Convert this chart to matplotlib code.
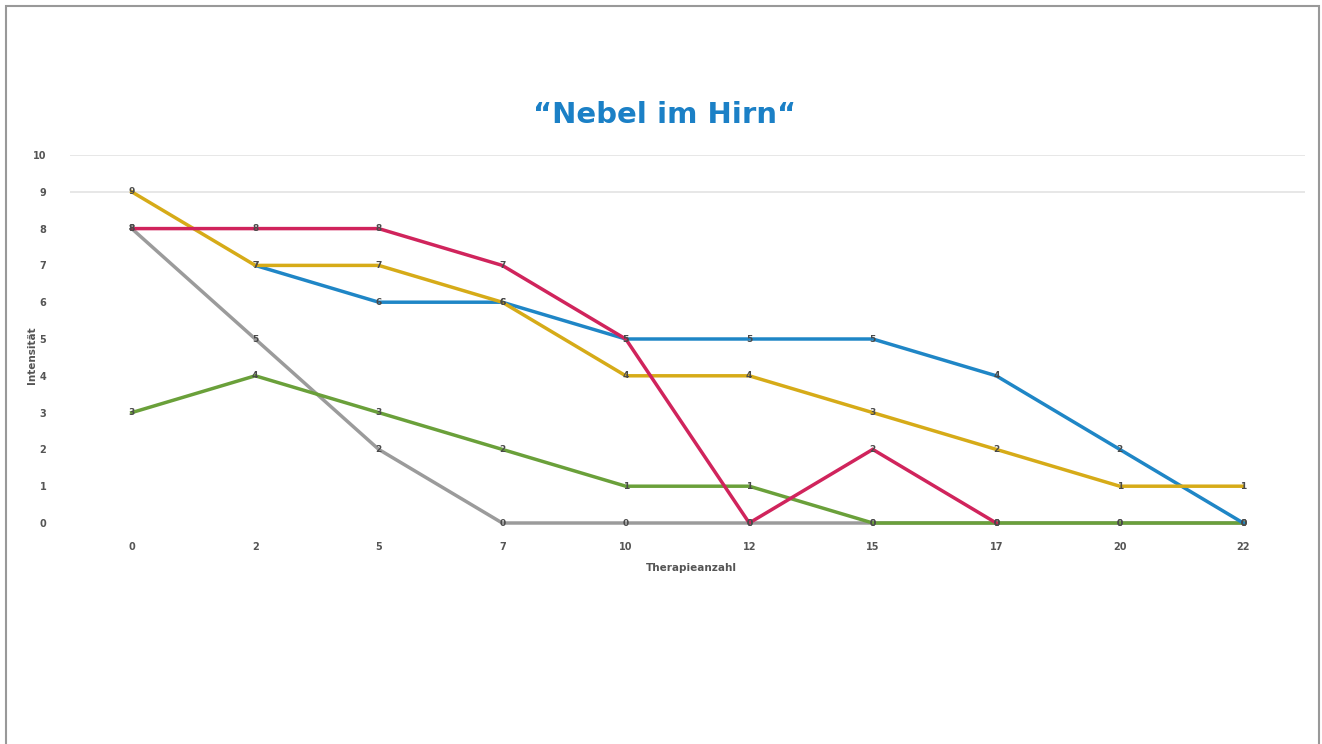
import numpy as np
import matplotlib.pyplot as plt
from matplotlib.patches import Rectangle

# Therapieanzahl (categories on the x axis)
sessions = ["0", "2", "5", "7", "10", "12", "15", "17", "20", "22"]

# intensity per patient line
nan = np.nan
grey = [8, 5, 2, 0, 0, 0, 0, 0, 0, 0]
green = [3, 4, 3, 2, 1, 1, 0, 0, 0, 0]
blue = [nan, 7, 6, 6, 5, 5, 5, 4, 2, 0]
yellow = [9, 7, 7, 6, 4, 4, 3, 2, 1, 1]
red = [8, 8, 8, 7, 5, 0, 2, 0, nan, nan]

series = [
    (grey, "#9b9b9b"),
    (green, "#6aa03a"),
    (blue, "#1f86c6"),
    (yellow, "#d6ab18"),
    (red, "#d0245c"),
]

fig = plt.figure(figsize=(13.22, 7.44), dpi=100)
ax = fig.add_axes([70/1322, 1-523/744, 1235/1322, 368/744])

x = np.arange(len(sessions))
for vals, col in series:
    v = np.array(vals, dtype=float)
    ax.plot(x, v, color=col, lw=2.5, clip_on=False, solid_joinstyle='miter')
    for xi, yi in zip(x, v):
        if not np.isnan(yi):
            ax.text(xi, yi, "%d" % yi, ha='center', va='center', fontsize=6.5,
                    color='#4a4a4a', fontweight='bold')

# only the two upper grid lines are visible
ax.hlines([9, 10], -0.5, 9.5, color='#e3e3e3', lw=1.2, zorder=0)

ax.set_xlim(-0.5, 9.5)
ax.set_ylim(0, 10)
ax.set_xticks(x)
ax.set_xticklabels(sessions)
ax.set_yticks(range(0, 11))
ax.tick_params(length=0, labelsize=7, labelcolor='#555555')
ax.tick_params(axis='x', pad=14)
ax.tick_params(axis='y', pad=17)
for lab in ax.get_xticklabels() + ax.get_yticklabels():
    lab.set_fontweight('bold')
for s in ax.spines.values():
    s.set_visible(False)

ax.set_xlabel("Therapieanzahl", fontsize=7.5, fontweight='bold', color='#555555')
ax.xaxis.set_label_coords(0.503, -0.108)
ax.set_ylabel("Intensität", fontsize=7.5, fontweight='bold', color='#555555')
ax.yaxis.set_label_coords(-0.027, 0.455)

fig.text(665/1322, 1-115/744, "\u201cNebel im Hirn\u201c", ha='center', va='center',
         fontsize=21, fontweight='bold', color='#1b80c6')

# thin frame round the picture
fig.patches.append(Rectangle((5.5/1322, -0.05), 1313.5/1322, 1.05-5.5/744,
                             transform=fig.transFigure, fill=False,
                             edgecolor='#999999', lw=1.5))

fig.savefig("out.png", dpi=100)
